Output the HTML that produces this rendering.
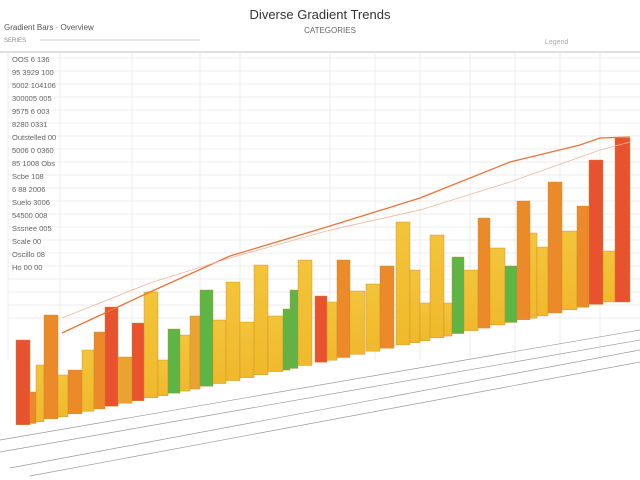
<!DOCTYPE html>
<html><head><meta charset="utf-8"><style>
body{margin:0;width:640px;height:480px;background:#fff;overflow:hidden;font-family:"Liberation Sans",sans-serif}
svg{display:block}
</style></head><body>
<svg id="s" width="640" height="480" xmlns="http://www.w3.org/2000/svg">
<defs>
<linearGradient id="gy" x1="0" y1="0" x2="0" y2="1"><stop offset="0" stop-color="#f3c43a"/><stop offset="1" stop-color="#f0b92c"/></linearGradient>
</defs>
<text x="320" y="19" text-anchor="middle" font-size="13" fill="#333">Diverse Gradient Trends</text>
<text x="330" y="33" text-anchor="middle" font-size="8" fill="#666">CATEGORIES</text>
<text x="4" y="30" font-size="8" fill="#555">Gradient Bars · Overview</text>
<text x="4" y="42" font-size="6" fill="#888">SERIES</text>
<line x1="40" y1="40" x2="200" y2="40" stroke="#bbb" stroke-width="0.8"/>
<text x="545" y="44" font-size="7" fill="#aaa">Legend</text>
<line x1="0" y1="52" x2="640" y2="52" stroke="#ccc" stroke-width="1.2"/>
<g id="grid" stroke="#e6e6e6" stroke-width="0.7"></g>
<g id="bars"></g>
<polyline points="62,333 150,292 230,256 330,226 420,198 510,162 580,145 600,138 630,137" fill="none" stroke="#e9743a" stroke-width="1.3"/>
<polyline points="62,318 150,283 230,258 330,230 420,210 510,182 600,150 630,142" fill="none" stroke="#f1b8a0" stroke-width="0.9"/>
<g stroke="#999" stroke-width="0.7" fill="none">
<line x1="0" y1="440" x2="640" y2="330"/>
<line x1="0" y1="452" x2="640" y2="340"/>
<line x1="10" y1="468" x2="640" y2="350"/>
<line x1="30" y1="476" x2="640" y2="362"/>
</g>
<g id="lbl" font-size="7.5" fill="#666"></g>
</svg>
<script>
var ns="http://www.w3.org/2000/svg";
function el(p,t,a){var e=document.createElementNS(ns,t);for(var k in a)e.setAttribute(k,a[k]);document.getElementById(p).appendChild(e);return e;}
for(var y=58;y<=330;y+=13)el("grid","line",{x1:8,y1:y,x2:640,y2:y});
[8,60,132,200,240,330,375,420,470,515,560,600].forEach(function(x){el("grid","line",{x1:x,y1:52,x2:x,y2:360})});
var C={r:"#e9522e",o:"#ec8a2a",y:"url(#gy)",g:"#5cb545",a:"#e9a330"};
var B=[[16,30,340,"r"],[30,36,392,"o"],[36,44,365,"y"],[44,58,315,"o"],[58,68,375,"y"],[68,82,370,"o"],[82,94,350,"y"],[94,105,332,"o"],[105,118,307,"r"],[118,132,357,"a"],[132,144,323,"r"],[144,158,292,"y"],[158,168,360,"y"],[168,180,329,"g"],[180,190,335,"y"],[190,200,316,"a"],[200,213,290,"g"],[213,226,320,"y"],[226,240,282,"y"],[240,254,322,"y"],[254,268,265,"y"],[268,283,316,"y"],[283,290,309,"g"],[290,298,290,"g"],[298,312,260,"y"],[315,327,296,"r"],[327,337,302,"y"],[337,350,260,"o"],[350,365,291,"y"],[366,380,284,"y"],[380,394,266,"o"],[396,410,222,"y"],[410,420,270,"y"],[420,430,303,"y"],[430,444,235,"y"],[444,452,303,"y"],[452,464,257,"g"],[464,478,270,"y"],[478,490,218,"o"],[490,505,248,"y"],[505,517,266,"g"],[517,530,201,"o"],[530,537,233,"y"],[537,548,247,"y"],[548,562,182,"o"],[562,577,231,"y"],[577,589,206,"o"],[589,603,160,"r"],[603,615,251,"y"],[615,630,138,"r"]];
B.forEach(function(b){var bot=431-0.21*b[1];if(b[1]>500)bot=Math.max(bot,302);
el("bars","rect",{x:b[0],y:b[2],width:b[1]-b[0],height:Math.max(0,bot-b[2]),fill:C[b[3]],stroke:"#c98a2a","stroke-width":0.4});});
var L=["OOS 6 136","95 3929 100","5002 104106","300005 005","9575 6 003","8280 0331","Outstelled 00","5006 0 0360","85 1008 Obs","Scbe 108","6 88 2006","Suelo 3006","54500 008","Sssnee 005","Scale 00","Oscillo 08","Ho 00 00"];
L.forEach(function(t,i){var e=el("lbl","text",{x:12,y:62+i*13});e.textContent=t;});
</script>
</body></html>
